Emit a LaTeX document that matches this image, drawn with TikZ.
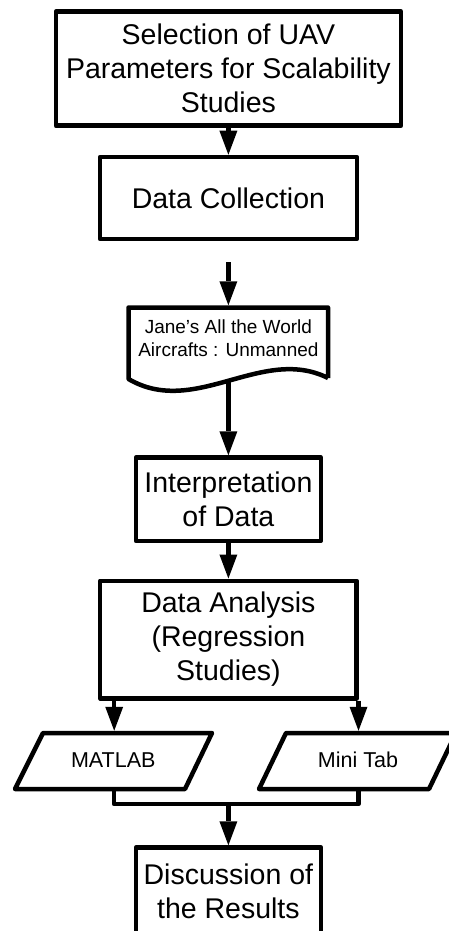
\documentclass[tikz,border=0pt]{standalone}
\usepackage{fontspec}
\setmainfont{Liberation Sans}
\usetikzlibrary{arrows.meta}
\begin{document}
\begin{tikzpicture}[x=1pt, y=-1pt,
  flow/.style={line width=4.5pt, line join=round},
  proc/.style={flow, draw, rectangle, align=center, inner sep=0pt,
    font=\fontsize{28.5}{34}\selectfont},
  iolabel/.style={font=\fontsize{21.5}{26}\selectfont, inner sep=0pt},
  link/.style={line width=4.5pt,
    -{Triangle[length=24pt, width=18pt, line width=0pt]}}]

% page area
\path[use as bounding box, clip] (0,0) rectangle (449,931);
\fill[white] (0,0) rectangle (449,931);

% process steps
\node[proc, minimum width=345pt, minimum height=114.3pt] (sel) at (228.4,68.6)
  {Selection of UAV\\Parameters for Scalability\\Studies};
\node[proc, minimum width=256.8pt, minimum height=82pt] (coll) at (228.4,198)
  {Data Collection};

% document symbol with wavy lower edge
\draw[flow] (328,378) -- (328,307.5) -- (128.5,307.5) -- (128.5,379)
  .. controls (195,418) and (262,345) .. (328,378);
\node[font=\fontsize{19}{23}\selectfont, align=center, inner sep=0pt] (jane)
  at (228.4,338.5) {Jane’s All the World\\Aircrafts : Unmanned};
\coordinate (src) at (228.4,262);
\coordinate (docin) at (228.4,305.25);
\coordinate (docout) at (228.4,380);

\node[proc, minimum width=185pt, minimum height=83.3pt] (interp) at (228.4,499.2)
  {Interpretation\\of Data};
\node[proc, minimum width=256.6pt, minimum height=117.5pt] (anal) at (228.4,639.5)
  {Data Analysis\\(Regression\\Studies)};

% tool inputs
\draw[flow] (43,733) -- (212,733) -- (185,789) -- (15,789) -- cycle;
\node[iolabel] (matlab) at (113.3,760) {MATLAB};
\draw[flow] (286,733) -- (456,733) -- (429,789) -- (259,789) -- cycle;
\node[iolabel] (minitab) at (358,760) {Mini Tab};
\coordinate (mlin) at (114.2,730.75);
\coordinate (mlout) at (114.2,789);
\coordinate (mtin) at (358.5,730.75);
\coordinate (mtout) at (358.5,789);
\coordinate (join) at (228.4,804.2);

\node[proc, minimum width=185.2pt, minimum height=88pt, anchor=north] (disc)
  at (228.4,845.25) {Discussion of\\the Results};

% connectors
\draw[link] (sel) -- (coll);
\draw[link] (src) -- (docin);
\draw[link] (docout) -- (interp.north);
\draw[link] (interp) -- (anal);
\draw[link] (anal.south -| mlin) -- (mlin);
\draw[link] (anal.south -| mtin) -- (mtin);
\draw[flow] (mlout) -- (mlout |- join) -- (mtout |- join) -- (mtout);
\draw[link] (join) -- (disc.north);
\end{tikzpicture}
\end{document}
